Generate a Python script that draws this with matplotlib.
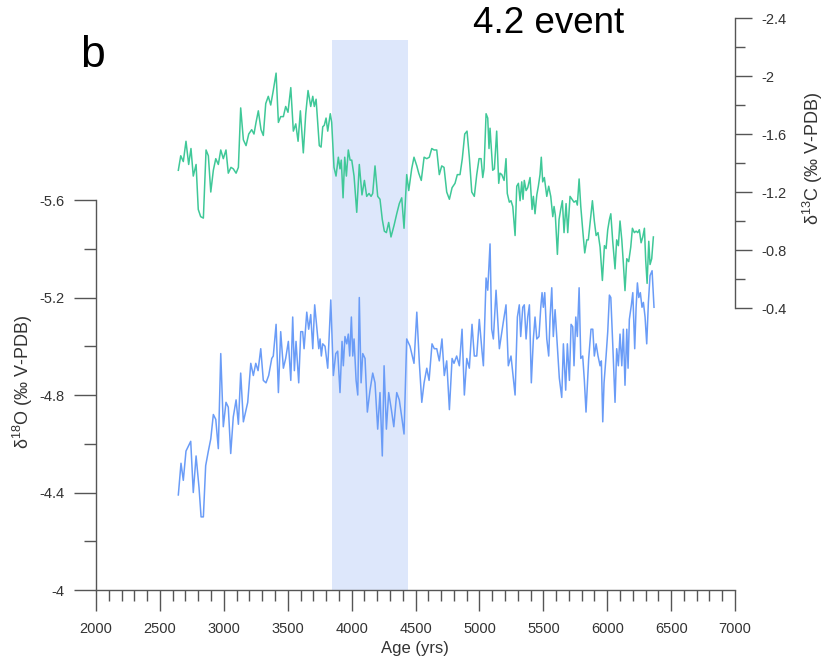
import numpy as np
import matplotlib
matplotlib.use("Agg")
import matplotlib.pyplot as plt
from matplotlib.ticker import MultipleLocator, FixedLocator, FuncFormatter

plt.rcParams['font.family'] = ['Liberation Sans', 'DejaVu Sans']
plt.rcParams['axes.unicode_minus'] = False
plt.rcParams['mathtext.fontset'] = 'custom'
plt.rcParams['mathtext.rm'] = 'Liberation Sans'
plt.rcParams['mathtext.default'] = 'regular'

# d18O record (age in yrs, permil V-PDB)
age_o = [2644, 2665, 2683, 2704, 2741, 2761, 2783, 2806, 2822, 2840, 2858, 2879, 2898, 2918, 2937,
         2957, 2976, 2996, 3017, 3035, 3054, 3074, 3096, 3114, 3132, 3153, 3187, 3211, 3231, 3250,
         3268, 3289, 3309, 3330, 3351, 3375, 3387, 3409, 3427, 3445, 3466, 3484, 3505, 3524, 3539,
         3552, 3565, 3586, 3602, 3617, 3628, 3649, 3664, 3680, 3696, 3711, 3727, 3743, 3753, 3763,
         3774, 3792, 3813, 3837, 3857, 3876, 3891, 3909, 3925, 3935, 3948, 3962, 3974, 3985, 3998,
         4009, 4019, 4035, 4048, 4060, 4074, 4087, 4105, 4123, 4144, 4165, 4183, 4204, 4222, 4240,
         4254, 4272, 4290, 4311, 4330, 4353, 4373, 4392, 4410, 4431, 4457, 4488, 4510, 4530, 4549,
         4567, 4588, 4606, 4629, 4647, 4666, 4686, 4707, 4725, 4744, 4765, 4786, 4801, 4822, 4843,
         4864, 4882, 4901, 4921, 4942, 4960, 4979, 4999, 5020, 5031, 5052, 5065, 5083, 5096, 5109,
         5130, 5156, 5187, 5208, 5226, 5247, 5279, 5297, 5312, 5323, 5339, 5351, 5365, 5378, 5391,
         5406, 5422, 5435, 5449, 5466, 5480, 5490, 5500, 5511, 5527, 5542, 5553, 5566, 5578, 5592,
         5605, 5625, 5644, 5657, 5675, 5688, 5704, 5717, 5730, 5740, 5754, 5766, 5780, 5793, 5808,
         5821, 5834, 5855, 5873, 5887, 5899, 5913, 5928, 5944, 5954, 5965, 5975, 5991, 6004, 6017,
         6028, 6043, 6061, 6074, 6087, 6100, 6114, 6126, 6139, 6153, 6163, 6173, 6189, 6200, 6215,
         6226, 6236, 6247, 6259, 6272, 6283, 6296, 6309, 6322, 6335, 6351, 6366]
d18o = [-4.39, -4.52, -4.45, -4.57, -4.61, -4.40, -4.55, -4.42, -4.30, -4.30, -4.51, -4.57, -4.62, -4.72, -4.70,
        -4.58, -4.97, -4.67, -4.77, -4.75, -4.56, -4.71, -4.78, -4.68, -4.89, -4.69, -4.77, -4.93, -4.88, -4.93,
        -4.90, -4.99, -4.86, -4.85, -4.88, -4.95, -4.96, -5.09, -4.81, -5.06, -4.91, -4.95, -5.02, -4.86, -5.12,
        -4.90, -5.02, -4.85, -5.06, -5.06, -4.99, -5.14, -5.07, -5.13, -4.99, -5.17, -5.08, -4.99, -5.03, -4.96,
        -5.01, -5.00, -4.91, -5.19, -4.88, -4.97, -4.98, -4.81, -5.02, -4.92, -5.04, -5.01, -5.05, -4.96, -5.12,
        -4.96, -5.03, -4.86, -4.80, -5.20, -4.85, -4.97, -4.95, -4.73, -4.82, -4.89, -4.85, -4.66, -4.81, -4.55,
        -4.92, -4.66, -4.81, -4.74, -4.67, -4.81, -4.78, -4.71, -4.64, -5.03, -5.00, -4.93, -5.14, -4.93, -4.77,
        -4.85, -4.91, -4.86, -5.01, -4.99, -4.99, -4.94, -5.03, -4.88, -4.94, -4.74, -4.95, -4.93, -4.96, -4.92,
        -5.07, -4.80, -4.95, -4.91, -5.09, -4.96, -4.96, -5.11, -4.98, -4.92, -5.28, -5.23, -5.42, -5.07, -5.03,
        -5.23, -4.99, -5.10, -5.17, -4.92, -4.96, -4.80, -5.12, -5.17, -5.04, -5.16, -5.17, -5.03, -5.12, -5.17,
        -4.85, -5.03, -5.12, -5.03, -5.04, -5.16, -5.22, -5.16, -5.22, -5.03, -4.96, -5.12, -5.24, -5.04, -5.15,
        -5.04, -4.87, -4.79, -5.01, -4.82, -5.01, -4.86, -5.09, -5.08, -4.92, -5.12, -5.04, -5.24, -4.95, -4.96,
        -4.86, -4.73, -4.95, -5.07, -5.07, -4.96, -5.01, -4.96, -4.92, -4.94, -4.69, -4.85, -4.96, -5.06, -5.21,
        -5.20, -5.01, -4.77, -4.99, -4.92, -5.05, -4.92, -5.07, -4.84, -5.07, -4.91, -5.11, -5.17, -5.22, -4.99,
        -5.16, -5.26, -5.20, -5.22, -5.16, -5.18, -5.12, -5.01, -5.18, -5.29, -5.31, -5.16]

# d13C record (age in yrs, permil V-PDB)
age_c = [2644, 2663, 2683, 2704, 2725, 2743, 2761, 2783, 2800, 2819, 2840, 2861, 2879, 2898, 2918,
         2937, 2957, 2976, 2996, 3017, 3035, 3056, 3074, 3096, 3114, 3132, 3153, 3174, 3195, 3218,
         3236, 3252, 3270, 3291, 3309, 3328, 3348, 3367, 3387, 3409, 3427, 3445, 3466, 3484, 3502,
         3524, 3544, 3563, 3581, 3599, 3622, 3641, 3659, 3680, 3696, 3708, 3722, 3735, 3747, 3761,
         3774, 3786, 3800, 3813, 3833, 3844, 3862, 3878, 3896, 3909, 3919, 3933, 3946, 3959, 3974,
         3988, 4001, 4019, 4040, 4060, 4081, 4100, 4118, 4136, 4152, 4165, 4183, 4204, 4222, 4240,
         4256, 4272, 4290, 4308, 4332, 4353, 4373, 4392, 4410, 4431, 4447, 4470, 4488, 4510, 4525,
         4545, 4567, 4588, 4608, 4627, 4645, 4666, 4686, 4705, 4723, 4744, 4765, 4786, 4809, 4827,
         4848, 4866, 4885, 4903, 4921, 4940, 4960, 4979, 4997, 5013, 5026, 5036, 5052, 5065, 5075,
         5083, 5104, 5117, 5135, 5151, 5161, 5175, 5193, 5208, 5218, 5234, 5247, 5261, 5279, 5292,
         5305, 5318, 5331, 5341, 5351, 5365, 5378, 5396, 5412, 5422, 5435, 5449, 5461, 5474, 5484,
         5495, 5508, 5527, 5542, 5558, 5574, 5584, 5594, 5610, 5623, 5636, 5649, 5662, 5678, 5691,
         5709, 5725, 5740, 5756, 5766, 5780, 5793, 5808, 5824, 5840, 5852, 5871, 5884, 5899, 5913,
         5928, 5944, 5962, 5978, 5991, 6004, 6017, 6028, 6043, 6061, 6074, 6087, 6100, 6114, 6126,
         6139, 6153, 6168, 6184, 6197, 6212, 6226, 6239, 6251, 6265, 6278, 6291, 6301, 6312, 6325,
         6335, 6348, 6361]
d13c = [-1.35, -1.45, -1.41, -1.55, -1.39, -1.50, -1.31, -1.39, -1.08, -1.03, -1.02, -1.49, -1.45, -1.20, -1.35,
        -1.43, -1.39, -1.49, -1.43, -1.49, -1.33, -1.37, -1.36, -1.33, -1.37, -1.78, -1.56, -1.52, -1.60, -1.63,
        -1.60, -1.68, -1.76, -1.63, -1.59, -1.81, -1.86, -1.80, -1.90, -2.02, -1.68, -1.72, -1.72, -1.79, -1.75,
        -1.92, -1.62, -1.67, -1.55, -1.76, -1.47, -1.74, -1.90, -1.79, -1.86, -1.79, -1.84, -1.67, -1.52, -1.51,
        -1.65, -1.66, -1.71, -1.62, -1.74, -1.68, -1.37, -1.31, -1.44, -1.36, -1.42, -1.16, -1.44, -1.31, -1.49,
        -1.42, -1.42, -1.31, -1.06, -1.39, -1.18, -1.28, -1.17, -1.19, -1.17, -1.19, -1.38, -1.17, -1.15, -1.01,
        -0.93, -0.92, -0.99, -0.89, -0.97, -1.05, -1.12, -1.16, -0.95, -1.32, -1.21, -1.36, -1.44, -1.38, -1.33,
        -1.28, -1.44, -1.43, -1.44, -1.50, -1.49, -1.49, -1.32, -1.38, -1.37, -1.20, -1.15, -1.23, -1.26, -1.32,
        -1.32, -1.43, -1.60, -1.62, -1.44, -1.20, -1.17, -1.32, -1.43, -1.43, -1.30, -1.36, -1.74, -1.71, -1.50,
        -1.64, -1.35, -1.36, -1.62, -1.26, -1.33, -1.32, -1.28, -1.43, -1.19, -1.13, -1.14, -1.10, -0.90, -1.24,
        -1.26, -1.14, -1.27, -1.15, -1.28, -1.21, -1.23, -1.30, -1.08, -1.17, -1.05, -1.18, -1.24, -1.32, -1.44,
        -1.27, -1.30, -1.17, -1.24, -1.17, -1.03, -1.10, -1.04, -0.77, -1.01, -1.08, -1.14, -0.92, -1.12, -0.92,
        -1.17, -1.15, -1.13, -1.14, -1.11, -1.29, -1.10, -0.94, -0.78, -0.87, -0.87, -1.03, -1.14, -1.00, -0.90,
        -0.92, -0.82, -0.59, -0.83, -0.81, -0.94, -1.01, -1.05, -0.86, -0.67, -0.87, -0.83, -1.00, -0.87, -0.71,
        -0.52, -0.74, -0.72, -0.82, -0.95, -0.92, -0.93, -0.92, -0.94, -0.85, -0.89, -0.95, -0.73, -0.57, -0.86,
        -0.70, -0.74, -0.89]

event_span = (3850, 4440)
x_ticks = np.arange(2000, 7001, 500)
o_ticks = [-5.6, -5.2, -4.8, -4.4, -4.0]
o_minor = [-5.4, -5.0, -4.6, -4.2]
c_ticks = [-2.4, -2.0, -1.6, -1.2, -0.8, -0.4]
c_minor = [-2.2, -1.8, -1.4, -1.0, -0.6]

axis_col = '#555555'
text_col = '#333333'
fmt = FuncFormatter(lambda v, p: f'{v:g}')

fig = plt.figure(figsize=(8.27, 6.63), dpi=100)
ax = fig.add_axes([0.1161, 0.1101, 0.7727, 0.8627])
ax.patch.set_alpha(0)

# shaded 4.2 ka event
ax.axvspan(*event_span, ymin=0, ymax=0.9615, color='#dde7fb', lw=0, zorder=0)
ax.plot(age_o, d18o, color='#6a9cf7', lw=1.1, zorder=2)

ax.set_xlim(2000, 7000)
ax.set_ylim(-4.0, -6.3467)
ax.set_xticks(x_ticks)
ax.xaxis.set_minor_locator(MultipleLocator(100))
ax.set_yticks(o_ticks)
ax.yaxis.set_minor_locator(FixedLocator(o_minor))
ax.yaxis.set_major_formatter(fmt)
ax.spines['left'].set_bounds(-5.6, -4.0)
for s in ['top', 'right']:
    ax.spines[s].set_visible(False)
for s in ['left', 'bottom']:
    ax.spines[s].set_color(axis_col)
    ax.spines[s].set_linewidth(1.0)
ax.tick_params(axis='x', which='major', direction='out', length=15, width=1.0, color=axis_col,
               labelsize=10.5, labelcolor=text_col, pad=8)
ax.tick_params(axis='x', which='minor', direction='out', length=8, width=1.0, color=axis_col)
ax.tick_params(axis='y', which='major', direction='out', length=16, width=1.0, color=axis_col,
               labelsize=10.5, labelcolor=text_col, pad=7)
ax.tick_params(axis='y', which='minor', direction='out', length=8.5, width=1.0, color=axis_col)

ax2 = ax.twinx()
ax2.plot(age_c, d13c, color='#3fc898', lw=1.1, zorder=2)
ax2.set_ylim(1.545, -2.4)
ax2.set_yticks(c_ticks)
ax2.yaxis.set_minor_locator(FixedLocator(c_minor))
ax2.yaxis.set_major_formatter(fmt)
ax2.spines['right'].set_bounds(-2.4, -0.4)
ax2.spines['right'].set_color(axis_col)
ax2.spines['right'].set_linewidth(1.0)
for s in ['top', 'left', 'bottom']:
    ax2.spines[s].set_visible(False)
ax2.tick_params(axis='y', which='major', direction='out', length=12, width=1.0, color=axis_col,
                labelsize=10.5, labelcolor=text_col, pad=7)
ax2.tick_params(axis='y', which='minor', direction='out', length=7, width=1.0, color=axis_col)

fig.text(0.0278, 0.424, r'δ$^{18}$O (‰ V-PDB)', rotation=90, ha='center', va='center',
         fontsize=13, color=text_col)
fig.text(0.983, 0.762, r'δ$^{13}$C (‰ V-PDB)', rotation=90, ha='center', va='center',
         fontsize=13, color=text_col)
fig.text(0.502, 0.0226, 'Age (yrs)', ha='center', va='center', fontsize=12, color=text_col)
fig.text(0.097, 0.899, 'b', fontsize=32, color='black')
fig.text(0.572, 0.950, '4.2 event', fontsize=26.5, color='black')

fig.savefig('out.png', dpi=100)
